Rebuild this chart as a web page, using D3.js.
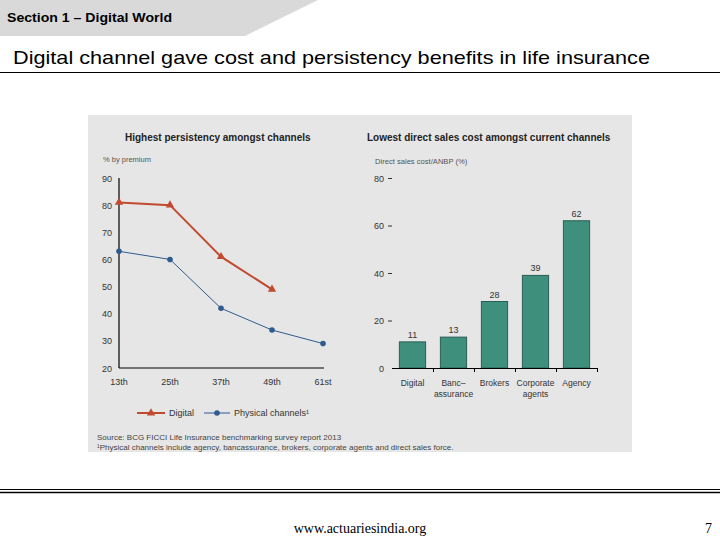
<!DOCTYPE html>
<html><head><meta charset="utf-8">
<script src="https://cdn.jsdelivr.net/npm/d3@7"></script>
<style>body{margin:0;background:#fff}svg{display:block}</style>
</head><body>
<script>
// Left chart data
const periods = ["13th","25th","37th","49th","61st"];
const digitalPersistency = [81, 80, 61, 49];
const physicalPersistency = [63, 60, 42, 34, 29];
const leftTicks = [20,30,40,50,60,70,80,90];
// Right chart data
const channels = [["Digital"],["Banc\u2013","assurance"],["Brokers"],["Corporate","agents"],["Agency"]];
const channelKeys = ["Digital","Bancassurance","Brokers","Corporate agents","Agency"];
const salesCost = [11, 13, 28, 39, 62];
const rightTicks = [0,20,40,60,80];

const W=720,H=540;
const svg=d3.select("body").append("svg").attr("width",W).attr("height",H);
const sans="Liberation Sans, Arial, sans-serif";

// Header band
svg.append("path").attr("d","M0,0 L318,0 L245,36 L0,36 Z").attr("fill","#d9d9d9");
svg.append("text").attr("x",7).attr("y",22).attr("font-family",sans).attr("font-weight","bold")
  .attr("font-size",12).attr("fill","#000").attr("textLength",165).attr("lengthAdjust","spacingAndGlyphs")
  .text("Section 1 \u2013 Digital World");
svg.append("text").attr("x",13).attr("y",64).attr("font-family",sans)
  .attr("font-size",19).attr("fill","#000").attr("textLength",637).attr("lengthAdjust","spacingAndGlyphs")
  .text("Digital channel gave cost and persistency benefits in life insurance");
svg.append("line").attr("x1",0).attr("x2",720).attr("y1",72.5).attr("y2",72.5).attr("stroke","#000").attr("stroke-width",1);

// Panel
svg.append("rect").attr("x",88).attr("y",115).attr("width",544).attr("height",337).attr("fill","#e6e6e6");

const txtCol="#333";
// ---------- Left chart ----------
const L=svg.append("g");
L.append("text").attr("x",125).attr("y",141).attr("font-family",sans).attr("font-weight","bold")
  .attr("font-size",10).attr("fill","#222").text("Highest persistency amongst channels");
L.append("text").attr("x",103).attr("y",162).attr("font-family",sans).attr("font-size",7.5)
  .attr("fill","#555").text("% by premium");
const xL=d3.scalePoint().domain(periods).range([119,323]);
const yL=d3.scaleLinear().domain([20,90]).range([368,178]);
L.append("line").attr("x1",119).attr("x2",119).attr("y1",yL(90)).attr("y2",yL(20)).attr("stroke","#000").attr("stroke-width",1.2);
L.append("line").attr("x1",119).attr("x2",324).attr("y1",yL(20)).attr("y2",yL(20)).attr("stroke","#000").attr("stroke-width",1.2);
L.selectAll(".yl").data(leftTicks).enter().append("text").attr("x",112).attr("y",d=>yL(d)+3.5)
  .attr("text-anchor","end").attr("font-family",sans).attr("font-size",9).attr("fill",txtCol).text(d=>d);
L.selectAll(".xl").data(periods).enter().append("text").attr("x",d=>xL(d)).attr("y",385)
  .attr("text-anchor","middle").attr("font-family",sans).attr("font-size",9).attr("fill",txtCol).text(d=>d);
const red="#c14a2f", blue="#2f5b8e";
const lineGen=d3.line().x((d,i)=>xL(periods[i])).y(d=>yL(d));
L.append("path").attr("d",lineGen(physicalPersistency)).attr("fill","none").attr("stroke",blue).attr("stroke-width",1);
L.append("path").attr("d",lineGen(digitalPersistency)).attr("fill","none").attr("stroke",red).attr("stroke-width",2);
L.selectAll(".pc").data(physicalPersistency).enter().append("circle").attr("cx",(d,i)=>xL(periods[i])).attr("cy",d=>yL(d))
  .attr("r",2.8).attr("fill",blue);
const tri=d3.symbol().type(d3.symbolTriangle).size(30);
L.selectAll(".dt").data(digitalPersistency).enter().append("path").attr("d",tri)
  .attr("transform",(d,i)=>`translate(${xL(periods[i])},${yL(d)})`).attr("fill",red);
// Legend
L.append("line").attr("x1",137).attr("x2",165).attr("y1",413).attr("y2",413).attr("stroke",red).attr("stroke-width",2);
L.append("path").attr("d",tri).attr("transform","translate(151,413)").attr("fill",red);
L.append("text").attr("x",169).attr("y",416).attr("font-family",sans).attr("font-size",9).attr("fill",txtCol).text("Digital");
L.append("line").attr("x1",204).attr("x2",230).attr("y1",413).attr("y2",413).attr("stroke",blue).attr("stroke-width",1);
L.append("circle").attr("cx",217).attr("cy",413).attr("r",2.8).attr("fill",blue);
L.append("text").attr("x",234).attr("y",416).attr("font-family",sans).attr("font-size",9).attr("fill",txtCol).text("Physical channels\u00b9");
svg.append("text").attr("x",97).attr("y",440).attr("font-family",sans).attr("font-size",8).attr("fill","#444")
  .text("Source: BCG FICCI Life Insurance benchmarking survey report 2013");
svg.append("text").attr("x",97).attr("y",450).attr("font-family",sans).attr("font-size",8).attr("fill","#444")
  .text("\u00b9Physical channels include agency, bancassurance, brokers, corporate agents and direct sales force.");

// ---------- Right chart ----------
const R=svg.append("g");
R.append("text").attr("x",367).attr("y",141).attr("font-family",sans).attr("font-weight","bold")
  .attr("font-size",10).attr("fill","#222").text("Lowest direct sales cost amongst current channels");
R.append("text").attr("x",375).attr("y",164).attr("font-family",sans).attr("font-size",7.6)
  .attr("fill","#555").text("Direct sales cost/ANBP (%)");
const xR=d3.scaleBand().domain(channelKeys).range([392,597]).paddingInner(0.36).paddingOuter(0.18);
const yR=d3.scaleLinear().domain([0,80]).range([368,178]);
R.selectAll(".yt").data(rightTicks).enter().append("text").attr("x",384).attr("y",d=>yR(d)+3.5)
  .attr("text-anchor","end").attr("font-family",sans).attr("font-size",9).attr("fill",txtCol).text(d=>d);
R.selectAll(".ytk").data(rightTicks.filter(d=>d>0)).enter().append("line").attr("x1",388).attr("x2",392)
  .attr("y1",d=>yR(d)+0.5).attr("y2",d=>yR(d)+0.5).attr("stroke","#333").attr("stroke-width",1);
R.selectAll(".bar").data(salesCost).enter().append("rect")
  .attr("x",(d,i)=>xR(channelKeys[i])).attr("y",d=>yR(d)).attr("width",xR.bandwidth()).attr("height",d=>yR(0)-yR(d))
  .attr("fill","#3f8f7d").attr("stroke","#285f55").attr("stroke-width",1);
R.append("line").attr("x1",392).attr("x2",598).attr("y1",368.5).attr("y2",368.5).attr("stroke","#000").attr("stroke-width",1.2);
R.selectAll(".xtk").data(channelKeys).enter().append("line")
  .attr("x1",(d)=>xR(d)+xR.step()-xR.step()*0.18+0.5).attr("x2",(d)=>xR(d)+xR.step()-xR.step()*0.18+0.5)
  .attr("y1",368).attr("y2",372).attr("stroke","#000");
R.selectAll(".vl").data(salesCost).enter().append("text").attr("x",(d,i)=>xR(channelKeys[i])+xR.bandwidth()/2)
  .attr("y",d=>yR(d)-4).attr("text-anchor","middle").attr("font-family",sans).attr("font-size",9).attr("fill",txtCol).text(d=>d);
channels.forEach((lines,i)=>{
  lines.forEach((ln,j)=>{
    R.append("text").attr("x",xR(channelKeys[i])+xR.bandwidth()/2).attr("y",386+j*11).attr("text-anchor","middle")
      .attr("font-family",sans).attr("font-size",8.5).attr("fill",txtCol).text(ln);
  });
});

// Footer
svg.append("line").attr("x1",0).attr("x2",720).attr("y1",489.5).attr("y2",489.5).attr("stroke","#000").attr("stroke-width",1);
svg.append("line").attr("x1",0).attr("x2",720).attr("y1",492.5).attr("y2",492.5).attr("stroke","#000").attr("stroke-width",1.5);
svg.append("text").attr("x",360).attr("y",533).attr("text-anchor","middle").attr("font-family","Liberation Serif, Times New Roman, serif")
  .attr("font-size",14).attr("fill","#000").text("www.actuariesindia.org");
svg.append("text").attr("x",712).attr("y",533).attr("text-anchor","end").attr("font-family","Liberation Serif, Times New Roman, serif")
  .attr("font-size",14).attr("fill","#000").text("7");
</script>
</body></html>
